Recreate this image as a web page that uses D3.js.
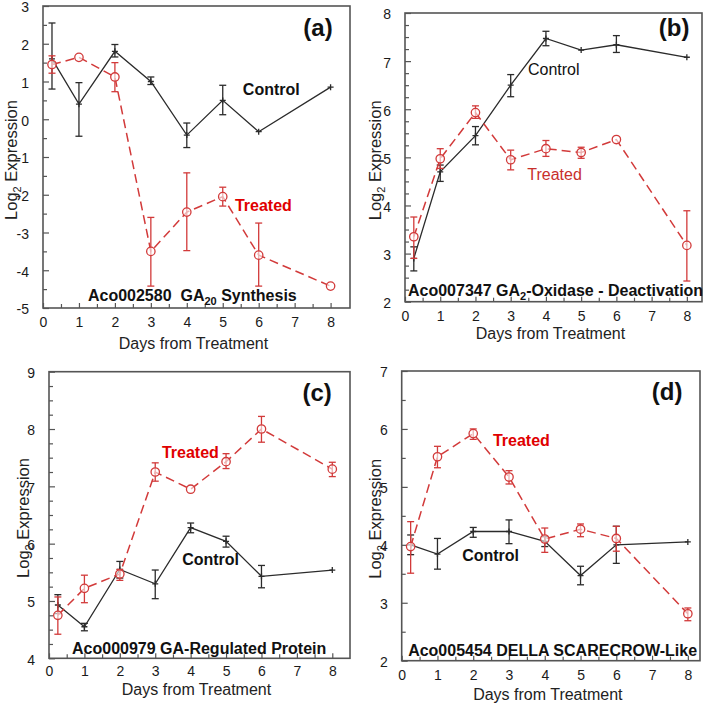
<!DOCTYPE html>
<html>
<head>
<meta charset="utf-8">
<script src="https://cdn.jsdelivr.net/npm/d3@7"></script>
<style>
  html, body { margin: 0; padding: 0; background: #fff; }
  svg { display: block; }
  text { font-family: "Liberation Sans", Arial, sans-serif; }
</style>
</head>
<body>
<svg id="chart" width="709" height="705"></svg>
<script>
// ---------- data ----------
const days = [0.25, 1, 2, 3, 4, 5, 6, 8];

// (a) Aco002580 GA20 Synthesis
const aControl   = [1.6, 0.4, 1.8, 1.0, -0.42, 0.5, -0.33, 0.85];
const aControlHi = [2.55, 0.97, 1.98, 1.12, -0.1, 0.9, null, null];
const aControlLo = [0.8, -0.45, 1.65, 0.92, -0.75, 0.12, null, null];
const aTreated   = [1.45, 1.64, 1.12, -3.5, -2.46, -2.05, -3.6, -4.42];
const aTreatedHi = [1.68, null, 1.5, -2.6, -1.42, -1.8, -2.75, null];
const aTreatedLo = [1.22, null, 0.73, -4.42, -3.48, -2.3, -4.42, null];

// (b) Aco007347 GA2-Oxidase - Deactivation
const bControl   = [2.9, 4.7, 5.45, 6.5, 7.47, 7.23, 7.34, 7.08];
const bControlHi = [3.14, 4.84, 5.64, 6.72, 7.62, null, 7.53, null];
const bControlLo = [2.64, 4.5, 5.26, 6.26, 7.32, null, 7.18, null];
const bTreated   = [3.35, 4.97, 5.93, 4.95, 5.18, 5.1, 5.37, 3.17];
const bTreatedHi = [3.76, 5.18, 6.07, 5.15, 5.35, 5.21, null, 3.89];
const bTreatedLo = [2.9, 4.77, 5.81, 4.74, 5.02, 4.98, null, 2.43];

// (c) Aco000979 GA-Regulated Protein
const cControl   = [4.93, 4.55, 5.55, 5.3, 6.28, 6.04, 5.43, 5.54];
const cControlHi = [5.11, 4.61, 5.69, 5.54, 6.36, 6.13, 5.62, null];
const cControlLo = [4.78, 4.48, 5.4, 5.04, 6.19, 5.94, 5.23, null];
const cTreated   = [4.75, 5.22, 5.47, 7.25, 6.95, 7.43, 8.0, 7.3];
const cTreatedHi = [5.07, 5.45, 5.55, 7.41, null, 7.57, 8.22, 7.42];
const cTreatedLo = [4.42, 4.97, 5.36, 7.09, null, 7.31, 7.77, 7.17];

// (d) Aco005454 DELLA SCARECROW-Like
const dControl   = [4.0, 3.84, 4.23, 4.23, 4.06, 3.47, 4.0, 4.05];
const dControlHi = [4.17, 4.11, 4.3, 4.43, 4.14, 3.63, 4.32, null];
const dControlLo = [3.83, 3.58, 4.13, 4.02, 3.97, 3.31, 3.68, null];
const dTreated   = [3.97, 5.52, 5.92, 5.17, 4.1, 4.27, 4.11, 2.81];
const dTreatedHi = [4.4, 5.7, 6.0, 5.28, 4.29, 4.36, 4.32, 2.91];
const dTreatedLo = [3.51, 5.33, 5.82, 5.05, 3.87, 4.14, 3.89, 2.69];

const xTicks = [0, 1, 2, 3, 4, 5, 6, 7, 8];
const xTitle = "Days from Treatment";
const seriesNames = ["Control", "Treated"];

// ---------- panel layout ----------
const panels = [
  { tag: "(a)", gene: "Aco002580", note: ["GA", "20", " Synthesis"], gap: "\u00a0\u00a0",
    ctl: aControl, ctlHi: aControlHi, ctlLo: aControlLo,
    trt: aTreated, trtHi: aTreatedHi, trtLo: aTreatedLo,
    yDomain: [-5, 3], yTicks: [-5, -4, -3, -2, -1, 0, 1, 2, 3], yMinorStep: 0.5,
    xMax: 8.54, box: { l: 43, r: 350, t: 6, b: 308 },
    tagPos: [7.65, 2.42], notePos: [1.25, -4.66],
    ctlLab: [5.56, 0.8, "bold"], trtLab: [5.34, -2.27, "bold"],
    yTitleX: 11, xTickY: 322, xTitleY: 343 },
  { tag: "(b)", gene: "Aco007347", note: ["GA", "2", "-Oxidase - Deactivation"], gap: " ",
    ctl: bControl, ctlHi: bControlHi, ctlLo: bControlLo,
    trt: bTreated, trtHi: bTreatedHi, trtLo: bTreatedLo,
    yDomain: [2, 8], yTicks: [2, 3, 4, 5, 6, 7, 8], yMinorStep: 0.25,
    xMax: 8.43, box: { l: 405, r: 702, t: 13, b: 301.7 },
    tagPos: [7.64, 7.69], notePos: [0.085, 2.24],
    ctlLab: [3.49, 6.82, "normal"], trtLab: [3.47, 4.65, "normal"],
    yTitleX: 375, xTickY: 316, xTitleY: 333 },
  { tag: "(c)", gene: "Aco000979", note: ["GA-Regulated Protein", "", ""], gap: " ",
    ctl: cControl, ctlHi: cControlHi, ctlLo: cControlLo,
    trt: cTreated, trtHi: cTreatedHi, trtLo: cTreatedLo,
    yDomain: [4, 9], yTicks: [4, 5, 6, 7, 8, 9], yMinorStep: 0.25,
    xMax: 8.5, box: { l: 49, r: 350, t: 371.7, b: 658.3 },
    tagPos: [7.57, 8.63], notePos: [0.65, 4.18],
    ctlLab: [3.76, 5.72, "bold"], trtLab: [3.19, 7.6, "bold"],
    yTitleX: 23, xTickY: 671.5, xTitleY: 689.5 },
  { tag: "(d)", gene: "Aco005454", note: ["DELLA SCARECROW-Like", "", ""], gap: " ",
    ctl: dControl, ctlHi: dControlHi, ctlLo: dControlLo,
    trt: dTreated, trtHi: dTreatedHi, trtLo: dTreatedLo,
    yDomain: [2, 7], yTicks: [2, 3, 4, 5, 6, 7], yMinorStep: 0.5,
    xMax: 8.34, box: { l: 401.7, r: 700, t: 371, b: 660.7 },
    tagPos: [7.42, 6.64], notePos: [0.18, 2.18],
    ctlLab: [1.69, 3.82, "bold"], trtLab: [2.55, 5.81, "bold"],
    yTitleX: 375, xTickY: 675.5, xTitleY: 694 }
];

// ---------- styles ----------
const CTL = "#2b2b2b";
const TRT = "#d23a3a";
const TRT_LABEL = "#e00000";
const FRAME = "#555";

const svg = d3.select("#chart");

panels.forEach(p => {
  const b = p.box;
  const x = d3.scaleLinear().domain([0, p.xMax]).range([b.l, b.r]);
  const y = d3.scaleLinear().domain(p.yDomain).range([b.b, b.t]);
  const g = svg.append("g");

  const yMinor = d3.range(p.yDomain[0], p.yDomain[1] + 1e-9, p.yMinorStep)
    .filter(v => Math.abs(v - Math.round(v)) > 1e-6);
  const xMinor = d3.range(0.5, 8.01, 1);

  const styleAxis = sel => {
    sel.select(".domain").remove();
    sel.selectAll(".tick line").attr("stroke", FRAME).attr("stroke-width", 1.2);
    sel.selectAll(".tick text")
      .attr("fill", "#1a1a1a")
      .style("font-size", "14px")
      .style("font-family", "'Liberation Sans', Arial, sans-serif");
  };

  const yAx = g.append("g").attr("transform", `translate(${b.l},0)`)
    .call(d3.axisLeft(y).tickValues(p.yTicks).tickSizeInner(-6).tickSizeOuter(0)
      .tickPadding(14).tickFormat(d => String(d)))
    .call(styleAxis);
  yAx.selectAll(".tick text").attr("dy", "0.42em");
  g.append("g").attr("transform", `translate(${b.l},0)`)
    .call(d3.axisLeft(y).tickValues(yMinor).tickSizeInner(-4).tickSizeOuter(0).tickFormat(""))
    .call(styleAxis);

  const xAx = g.append("g").attr("transform", `translate(0,${b.b})`)
    .call(d3.axisBottom(x).tickValues(xTicks).tickSizeInner(-5).tickSizeOuter(0)
      .tickPadding(0).tickFormat(d => String(d)))
    .call(styleAxis);
  xAx.selectAll(".tick text").attr("y", p.xTickY - b.b).attr("dy", "0.35em");
  g.append("g").attr("transform", `translate(0,${b.b})`)
    .call(d3.axisBottom(x).tickValues(xMinor).tickSizeInner(-4).tickSizeOuter(0).tickFormat(""))
    .call(styleAxis);

  g.append("rect")
    .attr("x", b.l).attr("y", b.t)
    .attr("width", b.r - b.l).attr("height", b.b - b.t)
    .attr("fill", "none").attr("stroke", FRAME).attr("stroke-width", 1.6);

  g.append("text")
    .attr("x", (b.l + b.r) / 2 - 3).attr("y", p.xTitleY)
    .attr("text-anchor", "middle").attr("dy", "0.35em")
    .style("font-size", "16px").attr("fill", "#222")
    .text(xTitle);

  const yt = g.append("text")
    .attr("transform", `translate(${p.yTitleX},${(b.t + b.b) / 2 + 3}) rotate(-90)`)
    .attr("text-anchor", "middle").attr("dy", "0.35em")
    .style("font-size", "16.5px").attr("fill", "#222");
  yt.append("tspan").text("Log");
  yt.append("tspan").attr("dy", "4").style("font-size", "11px").text("2");
  yt.append("tspan").attr("dy", "-4").text(" Expression");

  const line = d3.line().x((d, i) => x(days[i])).y(d => y(d));

  const drawErr = (hi, lo, color) => {
    const eb = g.append("g").attr("stroke", color).attr("stroke-width", 1.3);
    days.forEach((dd, i) => {
      if (hi[i] == null || lo[i] == null) return;
      const cx = x(dd);
      eb.append("line").attr("x1", cx).attr("x2", cx).attr("y1", y(hi[i])).attr("y2", y(lo[i]));
      eb.append("line").attr("x1", cx - 3.5).attr("x2", cx + 3.5).attr("y1", y(hi[i])).attr("y2", y(hi[i]));
      eb.append("line").attr("x1", cx - 3.5).attr("x2", cx + 3.5).attr("y1", y(lo[i])).attr("y2", y(lo[i]));
    });
  };

  g.append("path").datum(p.ctl).attr("d", line)
    .attr("fill", "none").attr("stroke", CTL).attr("stroke-width", 1.3);
  drawErr(p.ctlHi, p.ctlLo, CTL);
  g.append("g").selectAll("path").data(p.ctl).join("path")
    .attr("d", (d, i) => `M${x(days[i]) - 3},${y(d)}h6M${x(days[i])},${y(d) - 3}v6`)
    .attr("stroke", CTL).attr("stroke-width", 1.3);

  g.append("path").datum(p.trt).attr("d", line)
    .attr("fill", "none").attr("stroke", TRT).attr("stroke-width", 1.5)
    .attr("stroke-dasharray", "9,5");
  drawErr(p.trtHi, p.trtLo, TRT);
  g.append("g").selectAll("circle").data(p.trt).join("circle")
    .attr("cx", (d, i) => x(days[i])).attr("cy", d => y(d)).attr("r", 4.2)
    .attr("fill", "#fff").attr("fill-opacity", 0.6)
    .attr("stroke", TRT).attr("stroke-width", 1.3);

  g.append("text")
    .attr("x", x(p.ctlLab[0])).attr("y", y(p.ctlLab[1])).attr("dy", "0.35em")
    .style("font-size", "16px").style("font-weight", p.ctlLab[2]).attr("fill", "#111")
    .text(seriesNames[0]);
  g.append("text")
    .attr("x", x(p.trtLab[0])).attr("y", y(p.trtLab[1])).attr("dy", "0.35em")
    .style("font-size", "16px").style("font-weight", p.trtLab[2])
    .attr("fill", p.trtLab[2] === "bold" ? TRT_LABEL : "#c8302c")
    .text(seriesNames[1]);

  g.append("text")
    .attr("x", x(p.tagPos[0])).attr("y", y(p.tagPos[1])).attr("dy", "0.35em")
    .attr("text-anchor", "middle")
    .style("font-size", "24px").style("font-weight", "bold").attr("fill", "#111")
    .text(p.tag);

  const nt = g.append("text")
    .attr("x", x(p.notePos[0])).attr("y", y(p.notePos[1])).attr("dy", "0.35em")
    .style("font-size", "16px").style("font-weight", "bold").attr("fill", "#111");
  nt.append("tspan").text(p.gene + p.gap + p.note[0]);
  if (p.note[1]) {
    nt.append("tspan").attr("dy", "4").style("font-size", "11px").text(p.note[1]);
    nt.append("tspan").attr("dy", "-4").text(p.note[2]);
  }
});
</script>
</body>
</html>
